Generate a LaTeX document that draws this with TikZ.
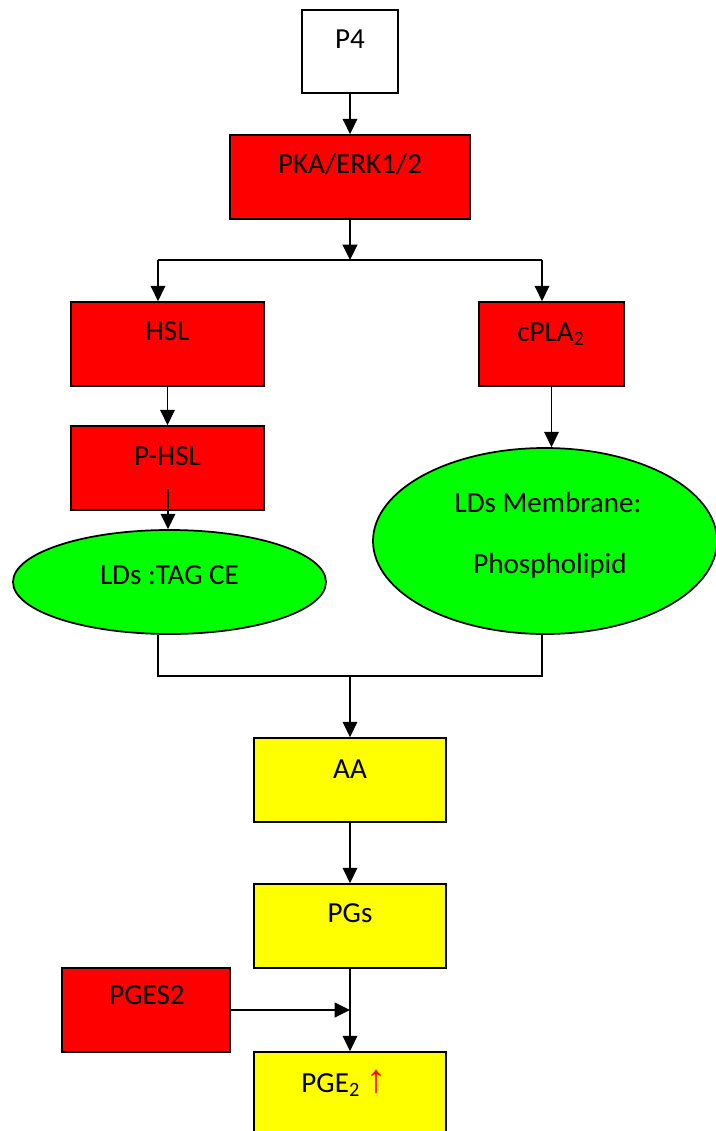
\documentclass[tikz,border=0pt]{standalone}
\usepackage{fontspec}
\setmainfont{Carlito}
\newfontfamily\arrowfont{Liberation Sans}
\usetikzlibrary{arrows.meta,shapes.geometric}
\definecolor{boxred}{RGB}{255,0,0}
\definecolor{boxgreen}{RGB}{0,255,0}
\definecolor{boxyellow}{RGB}{255,255,0}
\begin{document}
\begin{tikzpicture}[x=0.75pt,y=-0.75pt,
  box/.style={draw=black,line width=1.3pt,rectangle,inner sep=0pt,minimum height=63pt},
  whitebox/.style={box,fill=white},
  redbox/.style={box,fill=boxred},
  yellowbox/.style={box,fill=boxyellow},
  greenell/.style={draw=black,line width=1.3pt,ellipse,inner sep=0pt,fill=boxgreen},
  txt/.style={anchor=base,inner sep=0pt,font=\fontsize{21.8}{26}\selectfont},
  conn/.style={line width=1.2pt,-{Triangle[width=11pt,length=11.5pt]}},
  wire/.style={line width=1.2pt}]
\useasboundingbox (0,0) rectangle (716,1131);
\clip (0,0) rectangle (716,1131);

% boxes
\node[whitebox,minimum width=72pt,minimum height=62.25pt] (p4) at (350,51.5) {};
\node[redbox,minimum width=180pt] (pka) at (350,177) {};
\node[redbox,minimum width=144.75pt] (hsl) at (167.5,344) {};
\node[redbox,minimum width=108.75pt] (cpla) at (551.5,344) {};
\node[redbox,minimum width=144.75pt] (phsl) at (167.5,468) {};
\node[greenell,minimum width=234.75pt,minimum height=78pt] (e1) at (169.5,582) {};
\node[greenell,minimum width=258pt,minimum height=139.5pt] (e2) at (545,541) {};
\node[yellowbox,minimum width=144pt] (aa) at (350,780) {};
\node[yellowbox,minimum width=144pt] (pgs) at (350,926) {};
\node[redbox,minimum width=126pt] (pges) at (146,1010) {};
\node[yellowbox,minimum width=144pt] (pge) at (350,1094) {};

% texts
\node[txt] (tp4) at (350,49) {P4};
\node[txt] (tpka) at (350,173) {PKA/ERK1/2};
\node[txt] (thsl) at (167.5,340) {HSL};
\node[txt] (tcpla) at (551,341) {cPLA\textsubscript{2}};
\node[txt] (tphsl) at (167.5,465) {P-HSL};
\node[txt] (te1) at (169.5,584) {LDs :TAG CE};
\node[txt] (te2a) at (548,512) {LDs Membrane:};
\node[txt] (te2b) at (550,573) {Phospholipid};
\node[txt] (taa) at (350,778) {AA};
\node[txt] (tpgs) at (350,922) {PGs};
\node[txt] (tpges) at (147,1004) {PGES2};
\node[txt] (tpge) at (344,1092) {PGE\textsubscript{2} {\color{red}\arrowfont\fontsize{30}{30}\selectfont ↑}};

% connectors
\coordinate (split) at (350,260);
\coordinate (lsplit) at (158,260);
\coordinate (rsplit) at (542,260);
\coordinate (phslin) at (168,489);
\coordinate (lj) at (158,676);
\coordinate (rj) at (542,676);
\coordinate (mj) at (350,676);
\coordinate (pgesend) at (350,1010);

\draw[conn] (p4.south) -- (pka.north);
\draw[conn] (pka.south) -- (split);
\draw[wire] (lsplit) -- (rsplit);
\draw[conn] (lsplit) -- (lsplit |- hsl.north);
\draw[conn] (rsplit) -- (rsplit |- cpla.north);
\draw[conn] (hsl.south) -- (phsl.north);
\draw[conn] (phslin) -- (phslin |- e1.north);
\draw[conn] (cpla.south) -- (cpla.south |- e2.north);
\draw[wire] (lj |- e1.south) -- (lj) -- (rj) -- (rj |- e2.south);
\draw[conn] (mj) -- (aa.north);
\draw[conn] (aa.south) -- (pgs.north);
\draw[conn] (pgs.south) -- (pge.north);
\draw[conn] (pges.east) -- (pgesend);
\end{tikzpicture}
\end{document}
